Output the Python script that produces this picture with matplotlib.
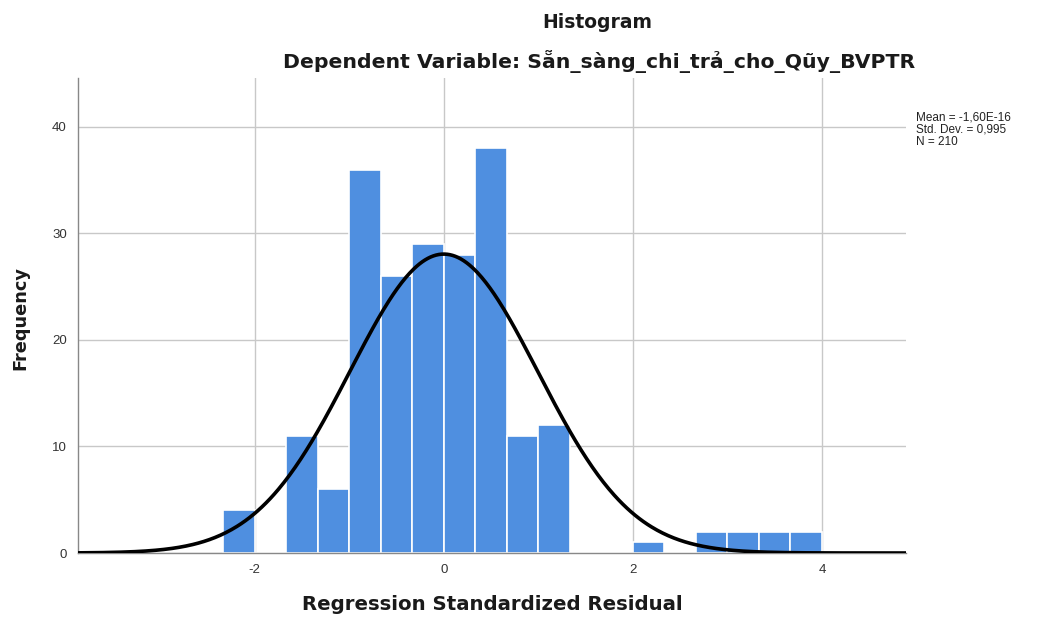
import numpy as np
import matplotlib
matplotlib.use("Agg")
import matplotlib.pyplot as plt

plt.rcParams['font.family'] = ['Liberation Sans', 'DejaVu Sans']

# Data
bin_edges = [-7/3, -2.0, -5/3, -4/3, -1.0, -2/3, -1/3, 0.0, 1/3, 2/3, 1.0, 4/3,
             5/3, 2.0, 7/3, 8/3, 3.0, 10/3, 11/3, 4.0]
counts = [4, 0, 11, 6, 36, 26, 29, 28, 38, 11, 12, 0, 0, 1, 0, 2, 2, 2, 2]
mean_val = -1.60e-16
std_val = 0.995
n_val = 210
x_ticks = [-2, 0, 2, 4]
y_ticks = [0, 10, 20, 30, 40]
stats_lines = ["Mean = -1,60E-16", "Std. Dev. = 0,995", "N = 210"]

W, H = 1040, 617
fig = plt.figure(figsize=(W/100, H/100), dpi=100)
ax = fig.add_axes([78/W, 1-553/H, (906-78)/W, (553-78)/H])

edges = np.array(bin_edges)
widths = np.diff(edges)
ax.bar(edges[:-1], counts, width=widths, align='edge', color='#4f8fe0',
       edgecolor='white', linewidth=1.2, zorder=2)

xmin, xmax = -3.87, 4.89
xs = np.linspace(xmin, xmax, 600)
bw = 1/3
ys = n_val * bw * np.exp(-0.5*((xs-mean_val)/std_val)**2) / (std_val*np.sqrt(2*np.pi))
ax.plot(xs, ys, color='black', linewidth=2.6, zorder=3, solid_capstyle='butt')

ax.set_xlim(xmin, xmax)
ax.set_ylim(0, 44.6)
ax.set_xticks(x_ticks)
ax.set_xticklabels([str(t) for t in x_ticks])
ax.set_yticks(y_ticks)
ax.grid(True, color='#c8c8c8', linewidth=1.0, zorder=0)
ax.set_axisbelow(True)
for s in ['top', 'right']:
    ax.spines[s].set_visible(False)
for s in ['left', 'bottom']:
    ax.spines[s].set_color('#888888')
    ax.spines[s].set_linewidth(1.0)
ax.tick_params(length=0, labelsize=9.5, colors='#333333', pad=8)

tfont = ['DejaVu Sans']
fig.text(597/W, 1-22/H, "Histogram", ha='center', va='center',
         fontsize=13.5, fontweight='bold', family=tfont, color='#1a1a1a')
fig.text(599/W, 1-62/H, "Dependent Variable: Sẵn_sàng_chi_trả_cho_Qũy_BVPTR",
         ha='center', va='center', fontsize=14.7, fontweight='bold', family=tfont,
         color='#1a1a1a')
fig.text(492/W, 1-605/H, "Regression Standardized Residual", ha='center',
         va='center', fontsize=14.2, fontweight='bold', family=tfont, color='#1a1a1a')
fig.text(20/W, 1-318/H, "Frequency", ha='center', va='center', rotation=90,
         fontsize=12.8, fontweight='bold', family=tfont, color='#1a1a1a')
fig.text(916/W, 1-111/H, "\n".join(stats_lines), ha='left', va='top',
         fontsize=8.5, linespacing=1.05, color='#222222')

fig.savefig("out.png", dpi=100)
